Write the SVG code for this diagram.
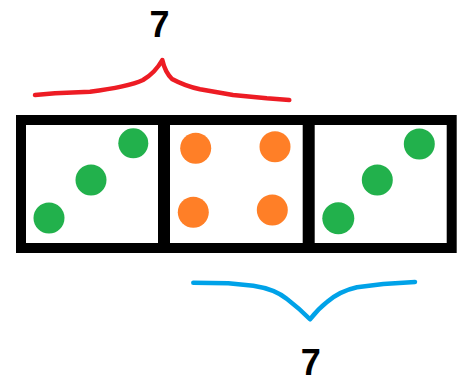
<svg xmlns="http://www.w3.org/2000/svg" width="463" height="383" viewBox="0 0 463 383">
<style>
.g{fill:#22b14c}
.o{fill:#ff7f27}
.box{fill:none;stroke:#000;stroke-width:10}
.div{stroke:#000;stroke-width:12}
.lbl{font-family:"Liberation Sans",Arial,sans-serif;font-weight:bold;font-size:36px;fill:#000;text-anchor:middle}
.brace{fill:none;stroke-width:4.5;stroke-linecap:round;stroke-linejoin:round}
</style>
<rect width="463" height="383" fill="#fff"/>
<g id="boxes">
<rect class="box" x="21" y="120" width="430.7" height="128"/>
<line class="div" x1="164" y1="120" x2="164" y2="248"/>
<line class="div" x1="308.7" y1="120" x2="308.7" y2="248"/>
</g>
<g id="box1-dots">
<circle class="g" cx="133.3" cy="143.3" r="15"/>
<circle class="g" cx="91" cy="180" r="15.5"/>
<circle class="g" cx="49" cy="218" r="15.5"/>
</g>
<g id="box2-dots">
<circle class="o" cx="195.7" cy="148.3" r="15.5"/>
<circle class="o" cx="193.3" cy="212.3" r="15.5"/>
<circle class="o" cx="275" cy="146.7" r="15.5"/>
<circle class="o" cx="272.3" cy="210" r="15.5"/>
</g>
<g id="box3-dots">
<circle class="g" cx="419.3" cy="144" r="15.5"/>
<circle class="g" cx="377.3" cy="180" r="15.5"/>
<circle class="g" cx="338.3" cy="218.3" r="16"/>
</g>
<g id="connectors">
<path class="brace" stroke="#ed1c24" d="M35,95 L55,93.3 L90,91.7 Q128,87 143,80 Q155,73 162.3,60 Q165,72 172,79 Q185,86 200,89.3 L233,95 L266.7,98.3 L289.3,100"/>
<path class="brace" stroke="#00a2e8" d="M193.3,282.7 L228.3,283.3 L253.3,285.7 Q275,289 287,299 Q300,309 310,319.3 Q318,309 327,302 Q340,291 357,287.3 L383.3,284 L415,282"/>
</g>
<g id="label-top"><text class="lbl" x="159.5" y="37">7</text></g>
<g id="label-bottom"><text class="lbl" x="310.7" y="375">7</text></g>
</svg>
